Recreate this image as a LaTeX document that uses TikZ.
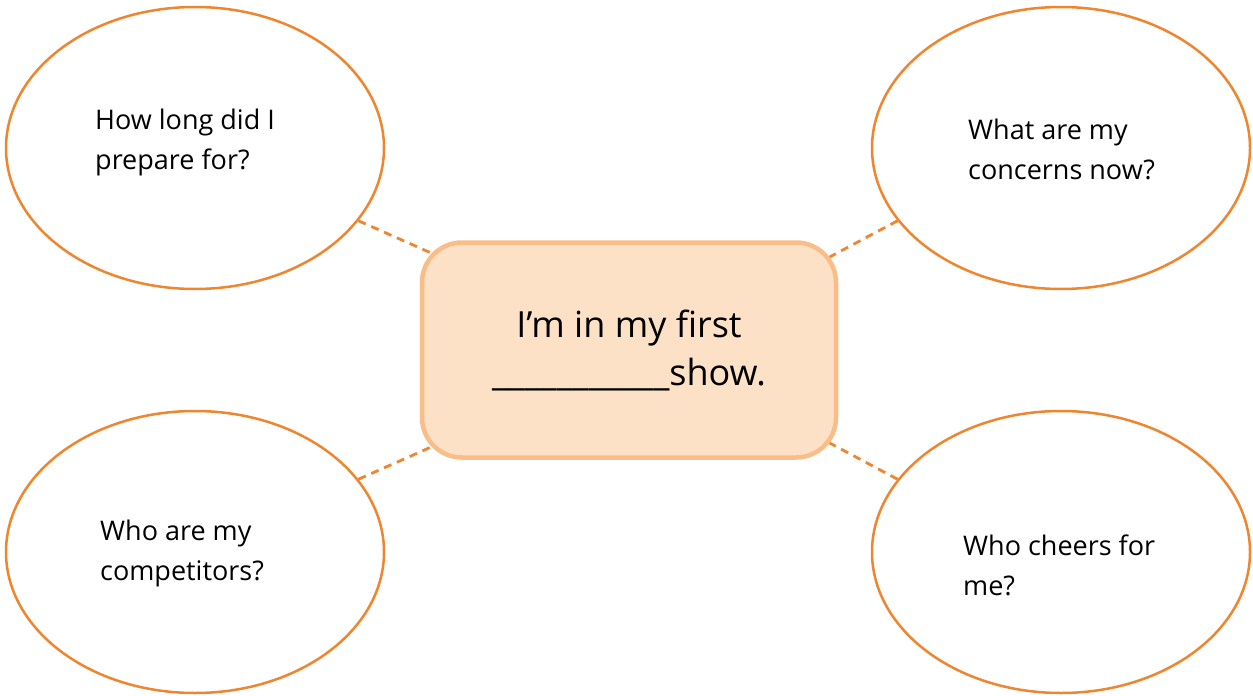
\documentclass[tikz,border=0pt]{standalone}
\usepackage{fontspec}
\setmainfont{Open Sans}
\usetikzlibrary{shapes.geometric,backgrounds}
\definecolor{orangeline}{HTML}{EE8630}
\definecolor{boxfill}{HTML}{FDE1C7}
\definecolor{boxline}{HTML}{F9BD88}
\tikzset{
  bubble/.style={ellipse, draw=orangeline, line width=2.5pt, fill=white,
    minimum width=378pt, minimum height=282pt, inner sep=0pt},
  centerbox/.style={rectangle, rounded corners=40pt, draw=boxline, fill=boxfill,
    line width=4.5pt, minimum width=414pt, minimum height=215pt, inner sep=0pt},
  qtext/.style={align=left, anchor=west, font=\fontsize{27}{40}\selectfont, inner sep=0pt},
  ctext/.style={align=center, font=\fontsize{36}{48}\selectfont, inner sep=0pt},
  link/.style={draw=orangeline, line width=2.8pt, dash pattern=on 8pt off 6pt, shorten >=-18pt}
}
\begin{document}
\begin{tikzpicture}[x=1pt,y=-1pt]
\useasboundingbox (0,0) rectangle (1253,696);
\node[bubble] (tl) at (195,148) {};
\node[bubble] (tr) at (1061,148) {};
\node[bubble] (bl) at (195,552) {};
\node[bubble] (br) at (1061,552) {};
\node[centerbox] (c) at (629,350) {};
\node[qtext] (tlt) at (95,142) {How long did I\\prepare for?};
\node[qtext] (trt) at (968,149) {What are my\\concerns now?};
\node[qtext] (blt) at (100,553) {Who are my\\competitors?};
\node[qtext] (brt) at (963,565) {Who cheers for\\me?};
\node[ctext] (ct) at (629,350) {I’m in my first\\\_\_\_\_\_\_\_\_\_\_\_show.};
\begin{scope}[on background layer]
\fill[white] (0,0) rectangle (1253,696);
\draw[link] (tl.-24) -- (c.154);
\draw[link] (tr.-156) -- (c.25);
\draw[link] (bl.24) -- (c.-154);
\draw[link] (br.156) -- (c.-25);
\end{scope}
\end{tikzpicture}
\end{document}
